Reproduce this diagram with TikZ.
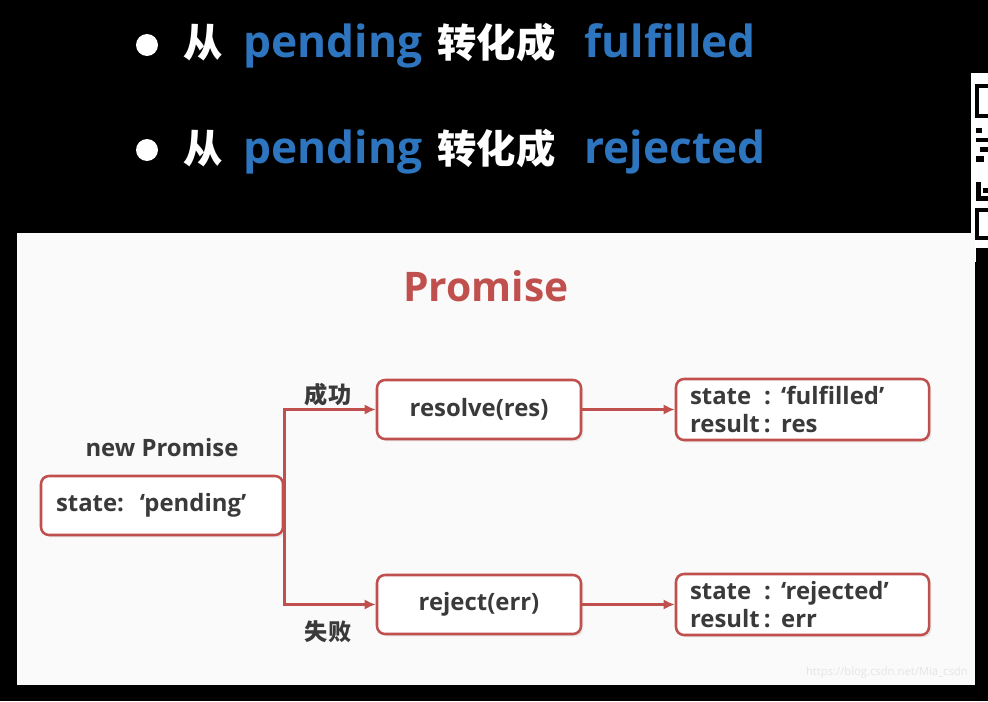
\documentclass[tikz,border=0pt]{standalone}
\usepackage{fontspec}
\setmainfont{Open Sans}
\newfontfamily\cjk{Noto Sans CJK SC}
\usetikzlibrary{arrows.meta,shadows}
\definecolor{pred}{RGB}{192,80,77}
\definecolor{pblue}{RGB}{46,117,192}
\definecolor{ptxt}{RGB}{58,58,58}
\definecolor{panelbg}{RGB}{250,250,250}
\newcommand\PX{0.25mm}
\begin{document}
\begin{tikzpicture}[x=0.25mm,y=-0.25mm,
  box/.style={draw=pred, line width=1.8pt, rounded corners=2mm, fill=white, text=ptxt,
    font=\bfseries\fontsize{17}{20.5}\selectfont,
    drop shadow={opacity=0.15,shadow xshift=0.6mm,shadow yshift=-0.6mm}},
  conn/.style={draw=pred, line width=1.8pt, -{Latex[length=2.8mm,width=2.6mm]}},
  lbl/.style={text=ptxt, font=\bfseries\fontsize{17}{20}\selectfont, inner sep=0},
  zlbl/.style={text=ptxt, font=\cjk\bfseries\fontsize{16.5}{20}\selectfont, inner sep=0},
  ztxt/.style={anchor=base west, inner sep=0, text=white, font=\cjk\bfseries\fontsize{28}{32}\selectfont},
  etxt/.style={anchor=base west, inner sep=0, text=pblue, font=\bfseries\fontsize{31.5}{36}\selectfont},
  bullet/.style={circle, fill=white, minimum size=22*\PX, inner sep=0}
]
\useasboundingbox (0,0) rectangle (988,701);
\fill[black] (0,0) rectangle (988,701);

% bullet lines
\node[bullet] (b1) at (147,45) {};
\node[ztxt] (l1a) at (183,58) {从};
\node[etxt] (l1b) at (243,58) {pending};
\node[ztxt] (l1c) at (437,58) {转化成};
\node[etxt] (l1d) at (584,58) {fulfilled};
\node[bullet] (b2) at (147,150) {};
\node[ztxt] (l2a) at (183,163) {从};
\node[etxt] (l2b) at (243,163) {pending};
\node[ztxt] (l2c) at (437,163) {转化成};
\node[etxt] (l2d) at (584,163) {rejected};

% QR strip at right edge
\fill[white] (971,73) rectangle (988,262);
\draw[black, line width=0.8mm] (977,86) rectangle (990,116);
\fill[black] (976,128) rectangle (982,133);
\fill[black] (976,138) rectangle (988,142);
\fill[black] (980,147) rectangle (988,152);
\fill[black] (976,156) rectangle (984,162);
\fill[black] (976,182) rectangle (981,196);
\fill[black] (976,196) rectangle (988,201);
\fill[black] (983,188) rectangle (988,193);
\draw[black, line width=0.8mm] (977,210) rectangle (990,238);
\fill[black] (976,248) rectangle (988,262);

% panel
\fill[panelbg] (17,233) rectangle (975,685);

% title
\node[text=pred, font=\bfseries\fontsize{29}{34}\selectfont] (title) at (486,286) {Promise};

% boxes
\node[box, minimum width=242*\PX, minimum height=59*\PX, text width=212*\PX, inner xsep=15*\PX, align=left]
  (pend) at (162,505.5) {state:\hspace{4mm}‘pending’};
\node[lbl] (np) at (162,448) {new Promise};

\node[box, minimum width=204*\PX, minimum height=59*\PX, align=center] (res) at (479,409.5) {resolve(res)};
\node[box, minimum width=204*\PX, minimum height=59*\PX, align=center] (rej) at (479,604.5) {reject(err)};

\node[box, minimum width=253*\PX, minimum height=61*\PX, text width=225*\PX, inner xsep=14*\PX, align=left]
  (ful) at (802.5,409.5) {\makebox[18.5mm][l]{state}:\hspace{2.6mm}‘fulfilled’\\\makebox[18.5mm][l]{result}:\hspace{2.6mm}res};
\node[box, minimum width=253*\PX, minimum height=61*\PX, text width=225*\PX, inner xsep=14*\PX, align=left]
  (rjd) at (802.5,604.5) {\makebox[18.5mm][l]{state}:\hspace{2.6mm}‘rejected’\\\makebox[18.5mm][l]{result}:\hspace{2.6mm}err};

% labels on branches
\node[zlbl] (ok) at (328,395) {成功};
\node[zlbl] (ng) at (328,632) {失败};

% connectors
\draw[conn] (pend.east) |- (res.west);
\draw[conn] (pend.east) |- (rej.west);
\draw[conn] (res.east) -- (ful.west);
\draw[conn] (rej.east) -- (rjd.west);

% watermark
\node[text=black!10, font=\fontsize{8}{9}\selectfont, anchor=east, inner sep=0] (wm) at (968,673) {https://blog.csdn.net/Mia\_csdn};
\end{tikzpicture}
\end{document}
